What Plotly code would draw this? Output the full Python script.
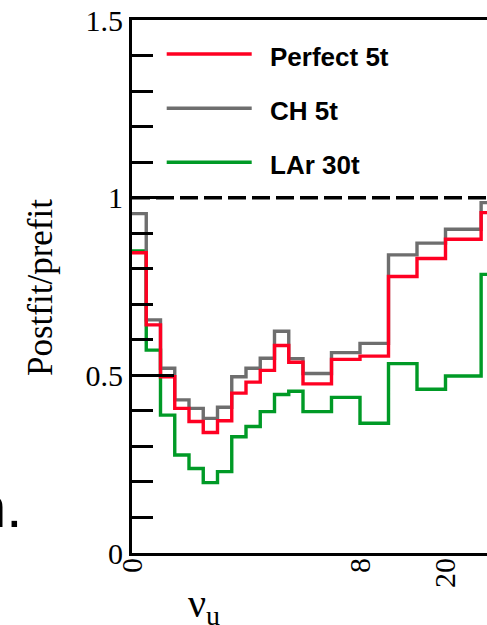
import plotly.graph_objects as go

# ---------------- data ----------------
bin_edges = [0, 1, 2, 3, 4, 5, 6, 7, 8, 9, 10, 11, 12, 14, 16, 18, 20, 22, 24.5, 27]
perfect_5t = [0.845, 0.642, 0.496, 0.407, 0.370, 0.339, 0.372, 0.450, 0.481, 0.514,
              0.584, 0.537, 0.476, 0.545, 0.554, 0.778, 0.829, 0.883, 0.958]
ch_5t = [0.955, 0.656, 0.520, 0.431, 0.407, 0.379, 0.410, 0.496, 0.520, 0.548,
         0.624, 0.547, 0.505, 0.564, 0.590, 0.839, 0.872, 0.911, 0.986]
lar_30t = [0.850, 0.571, 0.388, 0.276, 0.238, 0.198, 0.229, 0.327, 0.356, 0.398,
           0.446, 0.455, 0.398, 0.438, 0.365, 0.533, 0.461, 0.498, 0.784]
series_names = ["Perfect 5t", "CH 5t", "LAr 30t"]
series_colors = ["#ff0022", "#6e6e6e", "#009a26"]
x_tick_vals = [0, 16, 22]
x_tick_text = ["0", "8", "20"]
y_title = "Postfit/prefit"
x_title = "ν<sub>u</sub>"
side_text = "n."
reference_level = 1.0

# ---------------- layout geometry ----------------
W, H = 487, 625
PL, PT = 132, 20
PW, PH = W - PL, 533
PB = H - PT - PH
X_MAX = PW / 14.25
Y_MAX = 1.5


def px_x(px):
    return (px - PL) / PW


def px_y(py):
    return (PT + PH - py) / PH


SERIF = "Liberation Serif, Times New Roman, serif"
SANS = "Liberation Sans, Arial, sans-serif"

fig = go.Figure()
series = [lar_30t, ch_5t, perfect_5t]
names = [series_names[2], series_names[1], series_names[0]]
colors = [series_colors[2], series_colors[1], series_colors[0]]
for vals, name, col in zip(series, names, colors):
    fig.add_trace(go.Scatter(
        x=bin_edges, y=list(vals) + [vals[-1]], mode="lines", name=name,
        line=dict(color=col, width=3.4, shape="hv"), showlegend=False,
    ))

# reference line at 1
fig.add_shape(type="line", xref="paper", yref="y", x0=0, x1=1,
              y0=reference_level, y1=reference_level,
              line=dict(color="black", width=3.5, dash="18px,6px"))

# manual legend (long line samples like the reference)
legend_rows_px = [54, 108.3, 162.3]
for name, col, ly in zip(series_names, series_colors, legend_rows_px):
    fig.add_shape(type="line", xref="paper", yref="paper",
                  x0=px_x(166.7), x1=px_x(251.7), y0=px_y(ly), y1=px_y(ly),
                  line=dict(color=col, width=3.4))
    fig.add_annotation(text="<b>%s</b>" % name, xref="paper", yref="paper",
                       x=px_x(268), y=px_y(ly + 2.5), xanchor="left", yanchor="middle",
                       showarrow=False, font=dict(family=SANS, size=26, color="black"))

# axis titles
fig.add_annotation(text=y_title, xref="paper", yref="paper", x=px_x(40), y=px_y(288),
                   xanchor="center", yanchor="middle", textangle=-90, showarrow=False,
                   font=dict(family=SERIF, size=35, color="black"))
fig.add_annotation(text=x_title, xref="paper", yref="paper", x=px_x(185.5), y=px_y(606),
                   xanchor="left", yanchor="middle", showarrow=False,
                   font=dict(family=SERIF, size=40, color="black"))
# stray text fragment at the left edge
fig.add_annotation(text=side_text, xref="paper", yref="paper", x=px_x(24), y=px_y(506),
                   xanchor="right", yanchor="middle", showarrow=False,
                   font=dict(family=SANS, size=58, color="black"))

fig.update_layout(
    width=W, height=H,
    margin=dict(l=PL, r=0, t=PT, b=PB, autoexpand=False),
    paper_bgcolor="white", plot_bgcolor="white",
    showlegend=False,
    xaxis=dict(range=[0, X_MAX], showgrid=False, zeroline=False,
               showline=True, linecolor="black", linewidth=3, mirror=True,
               ticks="", ticklen=0, ticklabelstandoff=-10,
               tickmode="array", tickvals=x_tick_vals, ticktext=x_tick_text,
               tickangle=-90, tickfont=dict(family=SERIF, size=30, color="black")),
    yaxis=dict(range=[0, Y_MAX], showgrid=False, zeroline=False,
               showline=True, linecolor="black", linewidth=3, mirror=False,
               ticks="inside", ticklen=42, tickwidth=3, tickcolor="black",
               tickmode="array", tickvals=[0, 0.5, 1, 1.5], ticktext=["0", "0.5", "1", "1.5"],
               minor=dict(ticks="inside", ticklen=21, tickwidth=3, tickcolor="black", dtick=0.1),
               tickfont=dict(family=SERIF, size=30, color="black")),
)

fig.write_html("out.html")
